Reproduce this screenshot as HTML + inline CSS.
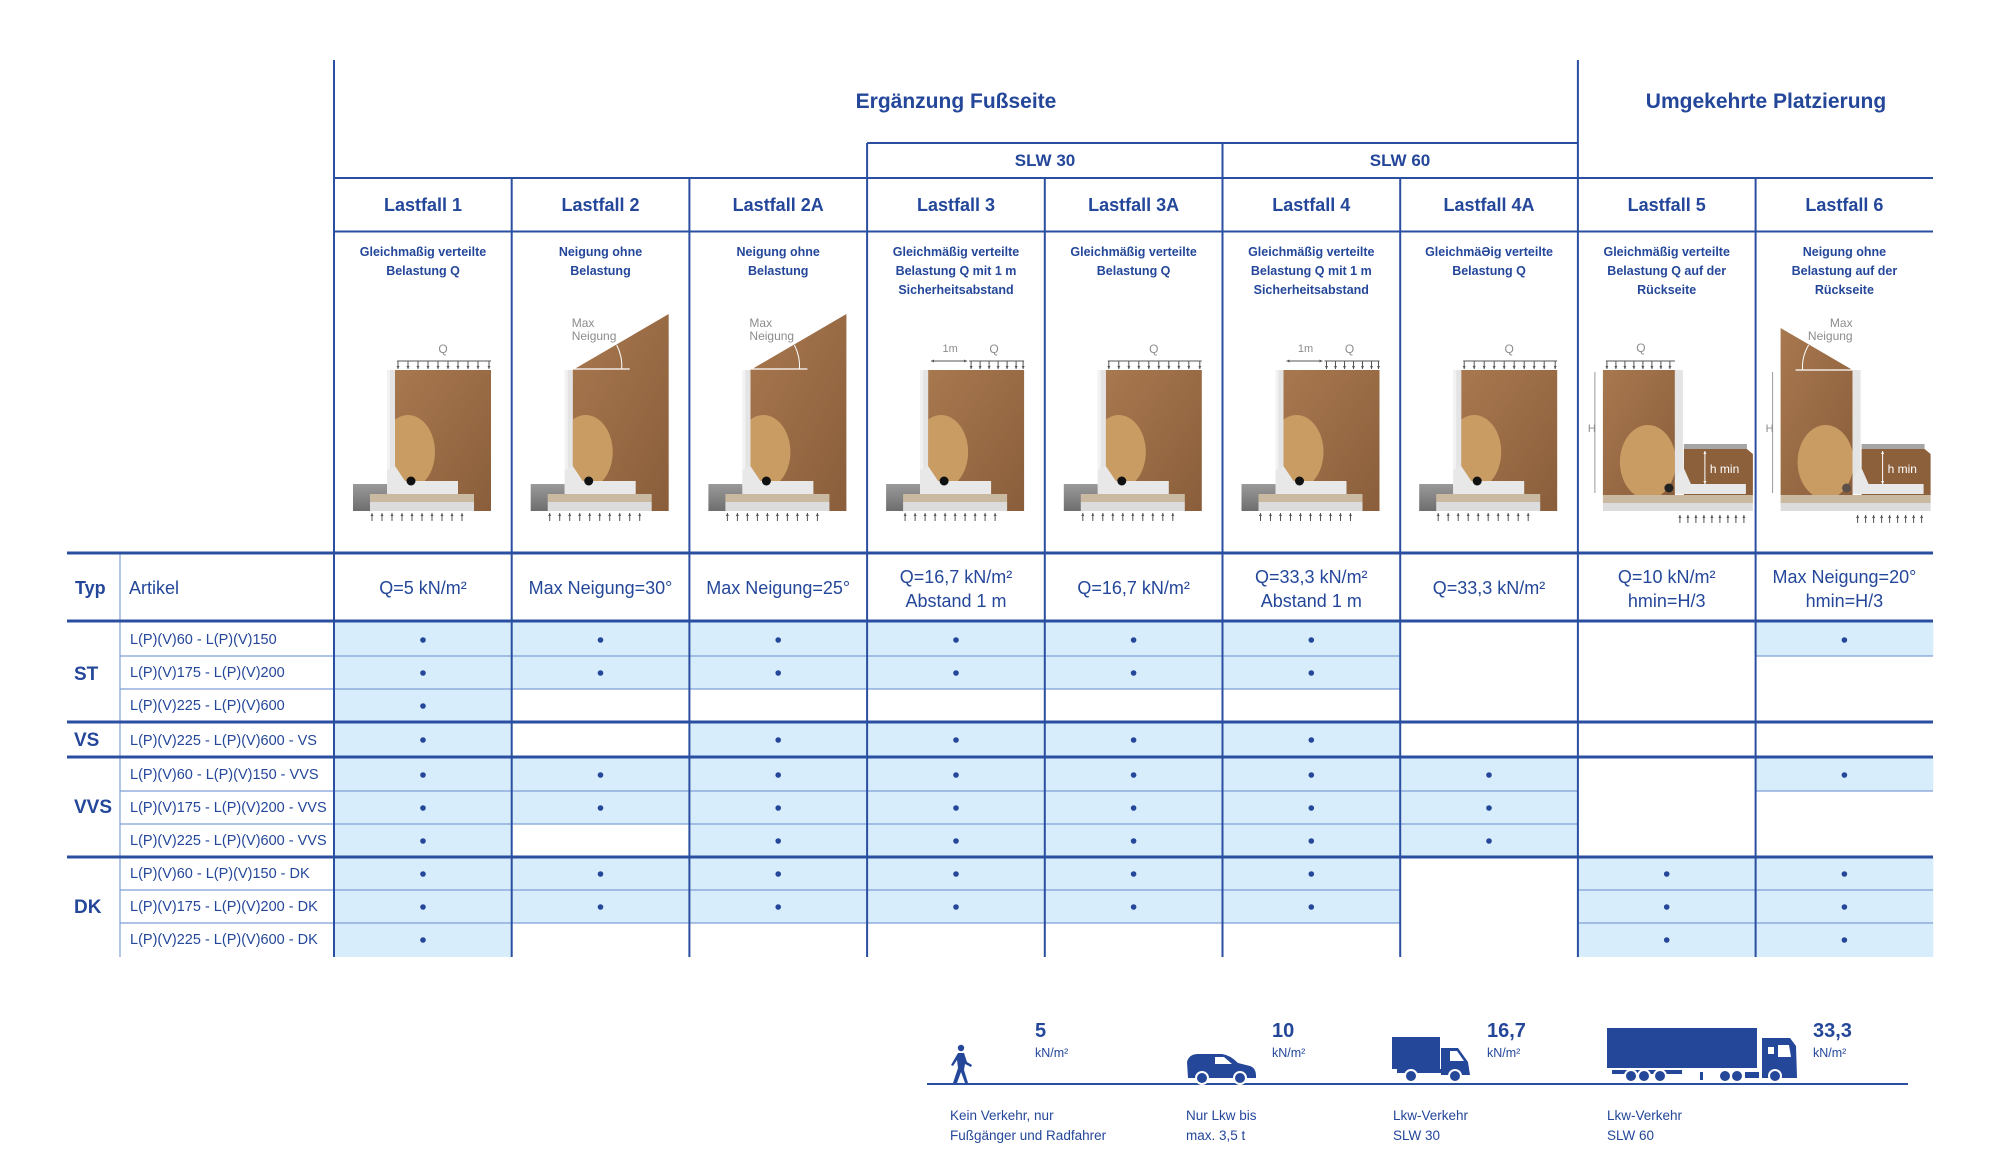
<!DOCTYPE html>
<html><head><meta charset="utf-8"><style>
html,body{margin:0;padding:0;background:#fff}
svg{display:block}
text{font-family:"Liberation Sans",sans-serif;fill:#24479a}
.b{font-weight:bold}
.g{fill:#8c8c8c;font-size:12px}
</style></head><body>
<svg width="2000" height="1167" viewBox="0 0 2000 1167" xmlns="http://www.w3.org/2000/svg">
<defs>
<marker id="ah" viewBox="0 0 6 6" refX="6" refY="3" markerWidth="3" markerHeight="3" orient="auto"><path d="M0 0L6 3L0 6z" fill="#555"/></marker>
<marker id="ahw" viewBox="0 0 6 6" refX="6" refY="3" markerWidth="3" markerHeight="3" orient="auto"><path d="M0 0L6 3L0 6z" fill="#fff"/></marker>
<linearGradient id="soil" x1="0" y1="0" x2="1" y2="1"><stop offset="0" stop-color="#a8784f"/><stop offset="1" stop-color="#8a5e3b"/></linearGradient>
<linearGradient id="gb" x1="0" y1="0" x2="0" y2="1"><stop offset="0" stop-color="#9a9a9a"/><stop offset="1" stop-color="#6e6e6e"/></linearGradient>
<g id="barr" stroke="#555" stroke-width="1" marker-end="url(#ah)">
<line x1="38" y1="521" x2="38" y2="513"/><line x1="48" y1="521" x2="48" y2="513"/><line x1="58" y1="521" x2="58" y2="513"/><line x1="68" y1="521" x2="68" y2="513"/><line x1="78" y1="521" x2="78" y2="513"/><line x1="88" y1="521" x2="88" y2="513"/><line x1="98" y1="521" x2="98" y2="513"/><line x1="108" y1="521" x2="108" y2="513"/><line x1="118" y1="521" x2="118" y2="513"/><line x1="128" y1="521" x2="128" y2="513"/>
</g>
<g id="barrR" stroke="#555" stroke-width="1" marker-end="url(#ah)">
<line x1="102" y1="523" x2="102" y2="515"/><line x1="110" y1="523" x2="110" y2="515"/><line x1="118" y1="523" x2="118" y2="515"/><line x1="126" y1="523" x2="126" y2="515"/><line x1="134" y1="523" x2="134" y2="515"/><line x1="142" y1="523" x2="142" y2="515"/><line x1="150" y1="523" x2="150" y2="515"/><line x1="158" y1="523" x2="158" y2="515"/><line x1="166" y1="523" x2="166" y2="515"/>
</g>
<g id="qfull" stroke="#555" stroke-width="1"><line x1="63" y1="361" x2="157" y2="361"/>
<g marker-end="url(#ah)"><line x1="64" y1="361" x2="64" y2="369"/><line x1="74" y1="361" x2="74" y2="369"/><line x1="84" y1="361" x2="84" y2="369"/><line x1="94" y1="361" x2="94" y2="369"/><line x1="104" y1="361" x2="104" y2="369"/><line x1="114" y1="361" x2="114" y2="369"/><line x1="124" y1="361" x2="124" y2="369"/><line x1="134" y1="361" x2="134" y2="369"/><line x1="144" y1="361" x2="144" y2="369"/><line x1="155" y1="361" x2="155" y2="369"/></g></g>
<g id="qrev" stroke="#555" stroke-width="1"><line x1="28" y1="361" x2="97" y2="361"/>
<g marker-end="url(#ah)"><line x1="29" y1="361" x2="29" y2="369"/><line x1="38" y1="361" x2="38" y2="369"/><line x1="47" y1="361" x2="47" y2="369"/><line x1="56" y1="361" x2="56" y2="369"/><line x1="65" y1="361" x2="65" y2="369"/><line x1="74" y1="361" x2="74" y2="369"/><line x1="83" y1="361" x2="83" y2="369"/><line x1="92" y1="361" x2="92" y2="369"/></g></g>
<g id="qpart" stroke="#555" stroke-width="1"><line x1="102" y1="361" x2="157" y2="361"/><line x1="100" y1="361" x2="64" y2="361" marker-end="url(#ah)"/><line x1="64" y1="361" x2="100" y2="361" marker-end="url(#ah)"/>
<g marker-end="url(#ah)"><line x1="104" y1="361" x2="104" y2="369"/><line x1="113" y1="361" x2="113" y2="369"/><line x1="122" y1="361" x2="122" y2="369"/><line x1="131" y1="361" x2="131" y2="369"/><line x1="140" y1="361" x2="140" y2="369"/><line x1="149" y1="361" x2="149" y2="369"/><line x1="156" y1="361" x2="156" y2="369"/></g></g>
<clipPath id="cpa"><rect x="61" y="300" width="96" height="211"/></clipPath>
<g id="wallA">
<rect x="19" y="484" width="34" height="27" fill="url(#gb)"/>
<g clip-path="url(#cpa)"><ellipse cx="74" cy="452" rx="27" ry="37" fill="#c99c64"/></g>
<rect x="53" y="370" width="8" height="116" fill="#e4e4e4"/><rect x="53" y="370" width="3" height="116" fill="#f2f2f2"/>
<polygon points="61,466 71,481 124,481 124,494 53,494 53,470" fill="#e8e8e8"/>
<rect x="36" y="494" width="104" height="8" fill="#c9b9a0"/>
<rect x="36" y="502" width="104" height="9" fill="#dcdcdc"/>
<circle cx="77" cy="481" r="4.5" fill="#111"/>
<use href="#barr"/>
</g>
<g id="dA"><rect x="61" y="370" width="96" height="141" fill="url(#soil)"/><use href="#wallA"/></g>
<g id="dB"><polygon points="61,370 61,511 157,511 157,314" fill="url(#soil)"/><use href="#wallA"/>
<line x1="62" y1="369" x2="118" y2="369" stroke="#fff" stroke-width="1.2"/><path d="M105 345 Q111 357 110 369" fill="none" stroke="#fff" stroke-width="1"/>
<text x="60" y="327" class="g">Max</text><text x="60" y="340" class="g">Neigung</text></g>
<clipPath id="cpr"><rect x="25" y="300" width="72" height="195"/></clipPath>
<g id="wallR">
<polygon points="106,449 169,449 175,454 175,495 106,495" fill="#8d603c"/>
<rect x="106" y="444" width="63" height="5" fill="#a5a5a5"/>
<g clip-path="url(#cpr)"><ellipse cx="70" cy="462" rx="28" ry="37" fill="#c99c64"/></g>
<rect x="97" y="370" width="8" height="116" fill="#e4e4e4"/>
<polygon points="105,466 113,484 168,484 168,494 97,494 97,480" fill="#e8e8e8"/>
<rect x="25" y="495" width="150" height="8" fill="#c9b9a0"/>
<rect x="25" y="503" width="150" height="8" fill="#dcdcdc"/>
<line x1="17" y1="372" x2="17" y2="493" stroke="#999" stroke-width="1"/>
<text x="10" y="432" class="g" style="font-size:11px">H</text>
<line x1="127" y1="458" x2="127" y2="451" stroke="#fff" marker-end="url(#ahw)"/><line x1="127" y1="458" x2="127" y2="484" stroke="#fff" marker-end="url(#ahw)"/>
<text x="132" y="473" style="fill:#fff;font-size:12px">h min</text>
<use href="#barrR"/>
</g>
</defs>

<!-- blue fills -->
<g fill="#d8edfb">
<rect x="334" y="621" width="177.7" height="336"/>
<rect x="511.7" y="621" width="177.7" height="68"/><rect x="511.7" y="757" width="177.7" height="67"/><rect x="511.7" y="857" width="177.7" height="66"/>
<rect x="689.4" y="621" width="177.7" height="68"/><rect x="689.4" y="722" width="177.7" height="201"/>
<rect x="867.1" y="621" width="177.7" height="68"/><rect x="867.1" y="722" width="177.7" height="201"/>
<rect x="1044.8" y="621" width="177.7" height="68"/><rect x="1044.8" y="722" width="177.7" height="201"/>
<rect x="1222.5" y="621" width="177.7" height="68"/><rect x="1222.5" y="722" width="177.7" height="201"/>
<rect x="1400.2" y="757" width="177.7" height="100"/>
<rect x="1577.9" y="857" width="177.7" height="100"/>
<rect x="1755.6" y="621" width="177.7" height="35"/><rect x="1755.6" y="757" width="177.7" height="34"/><rect x="1755.6" y="857" width="177.7" height="100"/>
</g>

<!-- thin row lines -->
<g stroke="#7f9fd8" stroke-width="1.2">
<line x1="120" y1="656" x2="1400" y2="656"/><line x1="1755.6" y1="656" x2="1933" y2="656"/>
<line x1="120" y1="689" x2="1400" y2="689"/>
<line x1="120" y1="791" x2="1578" y2="791"/><line x1="1755.6" y1="791" x2="1933" y2="791"/>
<line x1="120" y1="824" x2="1578" y2="824"/>
<line x1="120" y1="890" x2="1400" y2="890"/><line x1="1578" y1="890" x2="1933" y2="890"/>
<line x1="120" y1="923" x2="1400" y2="923"/><line x1="1578" y1="923" x2="1933" y2="923"/>
<line x1="120" y1="553" x2="120" y2="957"/>
</g>

<!-- structural lines -->
<g stroke="#2b4fa0" stroke-width="2">
<line x1="334" y1="60" x2="334" y2="957"/>
<line x1="1577.9" y1="60" x2="1577.9" y2="957"/>
<line x1="867.1" y1="143" x2="867.1" y2="957"/>
<line x1="1222.5" y1="143" x2="1222.5" y2="957"/>
<line x1="511.7" y1="178" x2="511.7" y2="957"/>
<line x1="689.4" y1="178" x2="689.4" y2="957"/>
<line x1="1044.8" y1="178" x2="1044.8" y2="957"/>
<line x1="1400.2" y1="178" x2="1400.2" y2="957"/>
<line x1="1755.6" y1="178" x2="1755.6" y2="957"/>
<line x1="867.1" y1="143" x2="1577.9" y2="143"/>
<line x1="334" y1="178" x2="1933" y2="178"/>
<line x1="334" y1="231.5" x2="1933" y2="231.5"/>
</g>
<g stroke="#2b4fa0" stroke-width="3">
<line x1="67" y1="553" x2="1933" y2="553"/>
<line x1="67" y1="621" x2="1933" y2="621"/>
<line x1="67" y1="722" x2="1933" y2="722"/>
<line x1="67" y1="757" x2="1933" y2="757"/>
<line x1="67" y1="857" x2="1933" y2="857"/>
</g>

<!-- titles -->
<text x="956" y="108" class="b" text-anchor="middle" font-size="21">Ergänzung Fußseite</text>
<text x="1766" y="108" class="b" text-anchor="middle" font-size="21">Umgekehrte Platzierung</text>
<text x="1045" y="166" class="b" text-anchor="middle" font-size="17">SLW 30</text>
<text x="1400" y="166" class="b" text-anchor="middle" font-size="17">SLW 60</text>
<g class="b" text-anchor="middle" font-size="18">
<text x="423" y="211">Lastfall 1</text><text x="600.5" y="211">Lastfall 2</text><text x="778.2" y="211">Lastfall 2A</text>
<text x="956" y="211">Lastfall 3</text><text x="1133.6" y="211">Lastfall 3A</text><text x="1311.3" y="211">Lastfall 4</text>
<text x="1489" y="211">Lastfall 4A</text><text x="1666.7" y="211">Lastfall 5</text><text x="1844.4" y="211">Lastfall 6</text>
</g>
<g class="b" text-anchor="middle" font-size="12.5">
<text x="423" y="256">Gleichmaßig verteilte</text><text x="423" y="275">Belastung Q</text>
<text x="600.5" y="256">Neigung ohne</text><text x="600.5" y="275">Belastung</text>
<text x="778.2" y="256">Neigung ohne</text><text x="778.2" y="275">Belastung</text>
<text x="956" y="256">Gleichmäßig verteilte</text><text x="956" y="275">Belastung Q mit 1 m</text><text x="956" y="294">Sicherheitsabstand</text>
<text x="1133.6" y="256">Gleichmäßig verteilte</text><text x="1133.6" y="275">Belastung Q</text>
<text x="1311.3" y="256">Gleichmäßig verteilte</text><text x="1311.3" y="275">Belastung Q mit 1 m</text><text x="1311.3" y="294">Sicherheitsabstand</text>
<text x="1489" y="256">GleichmäƏig verteilte</text><text x="1489" y="275">Belastung Q</text>
<text x="1666.7" y="256">Gleichmäßig verteilte</text><text x="1666.7" y="275">Belastung Q auf der</text><text x="1666.7" y="294">Rückseite</text>
<text x="1844.4" y="256">Neigung ohne</text><text x="1844.4" y="275">Belastung auf der</text><text x="1844.4" y="294">Rückseite</text>
</g>

<!-- diagrams -->
<g transform="translate(334,0)"><use href="#dA"/><use href="#qfull"/><text x="109" y="353" class="g" text-anchor="middle">Q</text></g>
<g transform="translate(511.7,0)"><use href="#dB"/></g>
<g transform="translate(689.4,0)"><use href="#dB"/></g>
<g transform="translate(867.1,0)"><use href="#dA"/><use href="#qpart"/><text x="83" y="352" class="g" text-anchor="middle" style="font-size:11px">1m</text><text x="127" y="353" class="g" text-anchor="middle">Q</text></g>
<g transform="translate(1044.8,0)"><use href="#dA"/><use href="#qfull"/><text x="109" y="353" class="g" text-anchor="middle">Q</text></g>
<g transform="translate(1222.5,0)"><use href="#dA"/><use href="#qpart"/><text x="83" y="352" class="g" text-anchor="middle" style="font-size:11px">1m</text><text x="127" y="353" class="g" text-anchor="middle">Q</text></g>
<g transform="translate(1400.2,0)"><use href="#dA"/><use href="#qfull"/><text x="109" y="353" class="g" text-anchor="middle">Q</text></g>
<g transform="translate(1577.9,0)">
<rect x="25" y="370" width="72" height="125" fill="url(#soil)"/><use href="#wallR"/><circle cx="91" cy="488" r="4.5" fill="#222"/>
<use href="#qrev"/>
<text x="63" y="352" class="g" text-anchor="middle">Q</text>
</g>
<g transform="translate(1755.6,0)">
<polygon points="25,328 97,370 97,495 25,495" fill="url(#soil)"/><use href="#wallR"/><circle cx="91" cy="488" r="4.5" fill="#5d5048"/>
<line x1="40" y1="370" x2="97" y2="370" stroke="#fff" stroke-width="1.2"/><path d="M53 345 Q46 357 47 370" fill="none" stroke="#fff" stroke-width="1"/>
<text x="97" y="327" class="g" text-anchor="end">Max</text><text x="97" y="340" class="g" text-anchor="end">Neigung</text>
</g>

<!-- header row -->
<text x="75" y="594" class="b" font-size="18">Typ</text>
<text x="129" y="594" font-size="18">Artikel</text>
<g text-anchor="middle" font-size="18">
<text x="423" y="594">Q=5 kN/m²</text>
<text x="600.5" y="594">Max Neigung=30°</text>
<text x="778.2" y="594">Max Neigung=25°</text>
<text x="956" y="583">Q=16,7 kN/m²</text><text x="956" y="607">Abstand 1 m</text>
<text x="1133.6" y="594">Q=16,7 kN/m²</text>
<text x="1311.3" y="583">Q=33,3 kN/m²</text><text x="1311.3" y="607">Abstand 1 m</text>
<text x="1489" y="594">Q=33,3 kN/m²</text>
<text x="1666.7" y="583">Q=10 kN/m²</text><text x="1666.7" y="607">hmin=H/3</text>
<text x="1844.4" y="583">Max Neigung=20°</text><text x="1844.4" y="607">hmin=H/3</text>
</g>

<!-- type labels -->
<g class="b" font-size="19">
<text x="74" y="680">ST</text><text x="74" y="746">VS</text><text x="74" y="813">VVS</text><text x="74" y="913">DK</text>
</g>
<g font-size="14.5">
<text x="130" y="644">L(P)(V)60 - L(P)(V)150</text>
<text x="130" y="677">L(P)(V)175 - L(P)(V)200</text>
<text x="130" y="710">L(P)(V)225 - L(P)(V)600</text>
<text x="130" y="745">L(P)(V)225 - L(P)(V)600 - VS</text>
<text x="130" y="779">L(P)(V)60 - L(P)(V)150 - VVS</text>
<text x="130" y="812">L(P)(V)175 - L(P)(V)200 - VVS</text>
<text x="130" y="845">L(P)(V)225 - L(P)(V)600 - VVS</text>
<text x="130" y="878">L(P)(V)60 - L(P)(V)150 - DK</text>
<text x="130" y="911">L(P)(V)175 - L(P)(V)200 - DK</text>
<text x="130" y="944">L(P)(V)225 - L(P)(V)600 - DK</text>
</g>

<!-- dots -->
<g fill="#24479a">
<circle cx="423" cy="640" r="2.8"/><circle cx="600.5" cy="640" r="2.8"/><circle cx="778.2" cy="640" r="2.8"/><circle cx="956" cy="640" r="2.8"/><circle cx="1133.6" cy="640" r="2.8"/><circle cx="1311.3" cy="640" r="2.8"/><circle cx="1844.4" cy="640" r="2.8"/>
<circle cx="423" cy="673" r="2.8"/><circle cx="600.5" cy="673" r="2.8"/><circle cx="778.2" cy="673" r="2.8"/><circle cx="956" cy="673" r="2.8"/><circle cx="1133.6" cy="673" r="2.8"/><circle cx="1311.3" cy="673" r="2.8"/>
<circle cx="423" cy="706" r="2.8"/>
<circle cx="423" cy="740" r="2.8"/><circle cx="778.2" cy="740" r="2.8"/><circle cx="956" cy="740" r="2.8"/><circle cx="1133.6" cy="740" r="2.8"/><circle cx="1311.3" cy="740" r="2.8"/>
<circle cx="423" cy="775" r="2.8"/><circle cx="600.5" cy="775" r="2.8"/><circle cx="778.2" cy="775" r="2.8"/><circle cx="956" cy="775" r="2.8"/><circle cx="1133.6" cy="775" r="2.8"/><circle cx="1311.3" cy="775" r="2.8"/><circle cx="1489" cy="775" r="2.8"/><circle cx="1844.4" cy="775" r="2.8"/>
<circle cx="423" cy="808" r="2.8"/><circle cx="600.5" cy="808" r="2.8"/><circle cx="778.2" cy="808" r="2.8"/><circle cx="956" cy="808" r="2.8"/><circle cx="1133.6" cy="808" r="2.8"/><circle cx="1311.3" cy="808" r="2.8"/><circle cx="1489" cy="808" r="2.8"/>
<circle cx="423" cy="841" r="2.8"/><circle cx="778.2" cy="841" r="2.8"/><circle cx="956" cy="841" r="2.8"/><circle cx="1133.6" cy="841" r="2.8"/><circle cx="1311.3" cy="841" r="2.8"/><circle cx="1489" cy="841" r="2.8"/>
<circle cx="423" cy="874" r="2.8"/><circle cx="600.5" cy="874" r="2.8"/><circle cx="778.2" cy="874" r="2.8"/><circle cx="956" cy="874" r="2.8"/><circle cx="1133.6" cy="874" r="2.8"/><circle cx="1311.3" cy="874" r="2.8"/><circle cx="1666.7" cy="874" r="2.8"/><circle cx="1844.4" cy="874" r="2.8"/>
<circle cx="423" cy="907" r="2.8"/><circle cx="600.5" cy="907" r="2.8"/><circle cx="778.2" cy="907" r="2.8"/><circle cx="956" cy="907" r="2.8"/><circle cx="1133.6" cy="907" r="2.8"/><circle cx="1311.3" cy="907" r="2.8"/><circle cx="1666.7" cy="907" r="2.8"/><circle cx="1844.4" cy="907" r="2.8"/>
<circle cx="423" cy="940" r="2.8"/><circle cx="1666.7" cy="940" r="2.8"/><circle cx="1844.4" cy="940" r="2.8"/>
</g>

<!-- legend -->
<line x1="927" y1="1084" x2="1908" y2="1084" stroke="#2b4fa0" stroke-width="2"/>
<g class="b" font-size="20">
<text x="1035" y="1037">5</text><text x="1272" y="1037">10</text><text x="1487" y="1037">16,7</text><text x="1813" y="1037">33,3</text>
</g>
<g font-size="12.5">
<text x="1035" y="1057">kN/m²</text><text x="1272" y="1057">kN/m²</text><text x="1487" y="1057">kN/m²</text><text x="1813" y="1057">kN/m²</text>
</g>
<g font-size="13.5">
<text x="950" y="1120">Kein Verkehr, nur</text><text x="950" y="1140">Fußgänger und Radfahrer</text>
<text x="1186" y="1120">Nur Lkw bis</text><text x="1186" y="1140">max. 3,5 t</text>
<text x="1393" y="1120">Lkw-Verkehr</text><text x="1393" y="1140">SLW 30</text>
<text x="1607" y="1120">Lkw-Verkehr</text><text x="1607" y="1140">SLW 60</text>
</g>
<g fill="#24479a" stroke="none">
<circle cx="961" cy="1048" r="3.2"/>
<path d="M958 1053 L964 1053 L967 1062 L972 1065 L971 1067 L965 1064 L964 1070 L968 1083 L965 1083 L961 1072 L957 1083 L953 1083 L958 1068 L957 1060 L953 1066 L951 1065 Z"/>
<path d="M1188 1078 L1187 1062 Q1189 1054 1198 1054 L1222 1054 Q1230 1055 1238 1063 L1250 1066 Q1256 1068 1256 1076 L1256 1078 Z"/>
<polygon points="1215,1057 1224,1057 1232,1064 1215,1064" fill="#fff"/>
<circle cx="1202" cy="1078" r="6" stroke="#fff" stroke-width="2"/><circle cx="1240" cy="1078" r="6" stroke="#fff" stroke-width="2"/>
<rect x="1392" y="1037" width="48" height="32"/>
<path d="M1441 1048 L1458 1048 L1468 1062 L1470 1075 L1441 1075 Z"/>
<polygon points="1450,1051 1457,1051 1464,1061 1450,1061" fill="#fff"/>
<rect x="1397" y="1069" width="44" height="4"/>
<circle cx="1411" cy="1076" r="6" stroke="#fff" stroke-width="2"/><circle cx="1455" cy="1076" r="6" stroke="#fff" stroke-width="2"/>
<rect x="1607" y="1028" width="150" height="40"/>
<path d="M1762 1038 L1790 1038 L1796 1046 L1797 1078 L1762 1078 Z"/>
<rect x="1768" y="1047" width="6" height="7" fill="#fff"/><polygon points="1778,1045 1789,1045 1791,1057 1778,1057" fill="#fff"/>
<rect x="1612" y="1070" width="70" height="4"/><rect x="1700" y="1072" width="3" height="8"/><rect x="1745" y="1072" width="14" height="6"/>
<circle cx="1631" cy="1076" r="6" stroke="#fff" stroke-width="2"/><circle cx="1644" cy="1076" r="6" stroke="#fff" stroke-width="2"/><circle cx="1660" cy="1076" r="6" stroke="#fff" stroke-width="2"/>
<circle cx="1725" cy="1076" r="6" stroke="#fff" stroke-width="2"/><circle cx="1737" cy="1076" r="6" stroke="#fff" stroke-width="2"/><circle cx="1775" cy="1076" r="6" stroke="#fff" stroke-width="2"/>
</g>
</svg>
</body></html>
